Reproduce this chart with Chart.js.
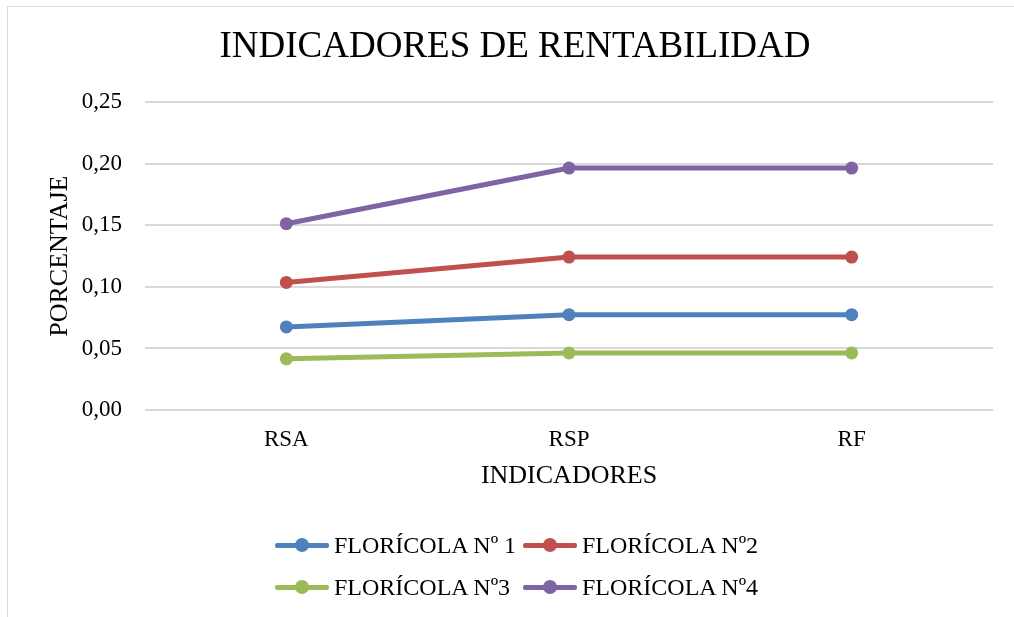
<!DOCTYPE html>
<html>
<head>
<meta charset="utf-8">
<script src="https://cdn.jsdelivr.net/npm/chart.js@4"></script>
<style>
  html, body { margin: 0; padding: 0; background: #fff; }
  #wrap { position: relative; width: 1014px; height: 617px; overflow: hidden; }
  #frame { position: absolute; left: 7px; top: 6px; width: 1030px; height: 640px; border: 1px solid #d9d9d9; }
  canvas { position: absolute; left: 0; top: 0; }
  .legend-item { position: absolute; display: flex; align-items: center; height: 30px;
    font-family: 'Liberation Serif', 'Times New Roman', serif; font-size: 24px; color: #000; white-space: nowrap; }
  .marker { position: relative; width: 54px; height: 14px; margin-right: 5px; }
  .marker .ln { position: absolute; left: 0; right: 0; top: 5px; height: 5px; border-radius: 2px; }
  .marker .dot { position: absolute; left: 20px; top: 0; width: 14px; height: 14px; border-radius: 50%; }
</style>
</head>
<body>
<div id="wrap">
  <div id="frame"></div>
  <canvas id="lineChart" width="1014" height="617"></canvas>
  <div id="legend"></div>
</div>
<script>
const categories = ['RSA', 'RSP', 'RF'];
const seriesNames = ['FLORÍCOLA Nº 1', 'FLORÍCOLA Nº2', 'FLORÍCOLA Nº3', 'FLORÍCOLA Nº4'];
const floricola1 = [0.0675, 0.0775, 0.0775];
const floricola2 = [0.1037, 0.1243, 0.1243];
const floricola3 = [0.0416, 0.0464, 0.0464];
const floricola4 = [0.1514, 0.1966, 0.1966];
const seriesColors = ['#4f81bd', '#c0504d', '#9bbb59', '#8064a2'];
const yTicks = [0, 0.05, 0.10, 0.15, 0.20, 0.25];

const serif = "'Liberation Serif', 'Times New Roman', serif";
const allSeries = [floricola1, floricola2, floricola3, floricola4];

const datasets = allSeries.map((vals, i) => ({
    label: seriesNames[i],
    data: vals,
    borderColor: seriesColors[i],
    backgroundColor: seriesColors[i],
    borderWidth: 5,
    pointRadius: 6.5,
    pointHoverRadius: 6.5,
    pointBorderWidth: 0,
    tension: 0
}));

const chart = new Chart(document.getElementById('lineChart'), {
    type: 'line',
    data: { labels: categories, datasets: datasets },
    options: {
        responsive: false,
        animation: false,
        layout: { padding: { left: 37, right: 21, top: 0, bottom: 117 } },
        plugins: {
            legend: { display: false },
            tooltip: { enabled: false },
            title: {
                display: true,
                text: 'INDICADORES DE RENTABILIDAD',
                color: '#000',
                font: { family: serif, size: 37, weight: 'normal' },
                padding: { top: 25, bottom: 33 }
            }
        },
        scales: {
            x: {
                offset: true,
                grid: { display: false, drawTicks: false },
                border: { display: false },
                ticks: { color: '#000', font: { family: serif, size: 23 }, padding: 16 },
                title: {
                    display: true,
                    text: 'INDICADORES',
                    color: '#000',
                    font: { family: serif, size: 26 },
                    padding: { top: 0, bottom: 8 }
                },
                afterFit: (scale) => { scale.height = 90; }
            },
            y: {
                min: 0,
                max: 0.25,
                grid: { color: '#d9d9d9', lineWidth: 2, drawTicks: false },
                border: { display: false },
                afterBuildTicks: (scale) => { scale.ticks = yTicks.map(v => ({ value: v })); },
                ticks: {
                    color: '#000',
                    font: { family: serif, size: 23 },
                    padding: 23,
                    callback: (v) => v.toFixed(2).replace('.', ',')
                },
                title: {
                    display: true,
                    text: 'PORCENTAJE',
                    color: '#000',
                    font: { family: serif, size: 26 },
                    padding: { top: 8, bottom: 0 }
                },
                afterFit: (scale) => { scale.width = 108; }
            }
        }
    }
});

// legend, two columns
const legend = document.getElementById('legend');
const legendPos = [[275, 530], [523, 530], [275, 572], [523, 572]];
chart.data.datasets.forEach((ds, i) => {
    const item = document.createElement('div');
    item.className = 'legend-item';
    item.style.left = legendPos[i][0] + 'px';
    item.style.top = legendPos[i][1] + 'px';
    const marker = document.createElement('div');
    marker.className = 'marker';
    const ln = document.createElement('div');
    ln.className = 'ln';
    ln.style.background = ds.borderColor;
    const dot = document.createElement('div');
    dot.className = 'dot';
    dot.style.background = ds.borderColor;
    marker.append(ln, dot);
    item.append(marker, document.createTextNode(ds.label));
    legend.appendChild(item);
});
</script>
</body>
</html>
